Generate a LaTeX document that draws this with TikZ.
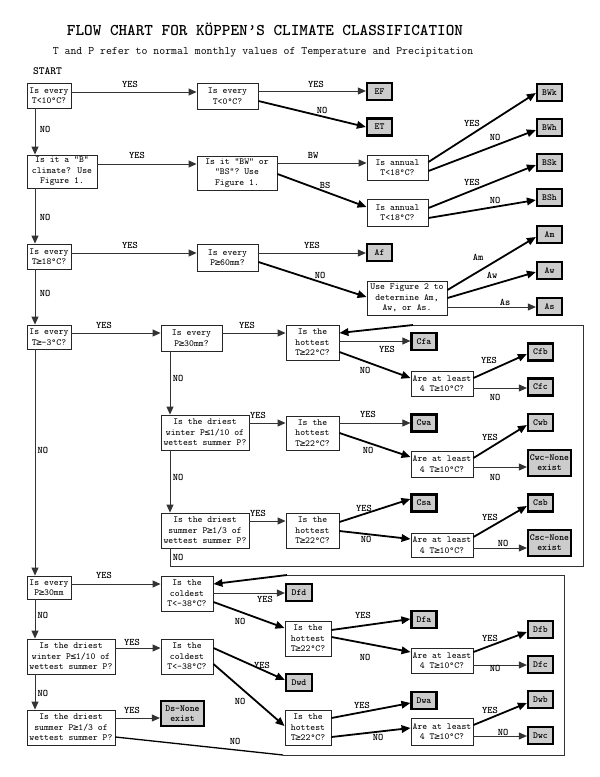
\documentclass[tikz,border=0pt]{standalone}
\usepackage{fontspec}
\newfontfamily\symf{DejaVu Sans Mono}
\usetikzlibrary{arrows.meta}
\newcommand\GEQ{{\symf\kern-0.3pt≥\kern-0.3pt}}
\newcommand\LEQ{{\symf\kern-0.3pt≤\kern-0.3pt}}
\newcommand\boxfnt{\ttfamily\fontsize{9.3}{10.5}\selectfont}
\newcommand\boxbfnt{\ttfamily\fontsize{9.3}{10}\selectfont\bfseries}
\newcommand\lblfnt{\ttfamily\fontsize{10}{11}\selectfont\bfseries}
\tikzset{
 q/.style={draw=black!85, line width=0.9pt, fill=white, inner sep=0pt, align=center, font=\boxfnt},
 term/.style={draw=black, line width=2.2pt, fill=gray!40, inner sep=0pt, align=center, font=\boxbfnt, minimum width=25pt, minimum height=17pt},
 ln/.style={draw=black!80, line width=0.9pt, -{Triangle[length=8pt,width=7pt]}},
 tk/.style={draw=black, line width=1.8pt, -{Triangle[length=9pt,width=7.5pt]}},
 lb/.style={font=\lblfnt, inner sep=0pt},
}
\begin{document}
\begin{tikzpicture}[x=1pt,y=-1pt]
\fill[white] (0,0) rectangle (600,777);
\useasboundingbox (0,0) rectangle (600,777);
% titles
\node[font=\ttfamily\fontsize{16.4}{18}\selectfont\bfseries] (title) at (265,29) {FLOW CHART FOR KÖPPEN’S CLIMATE CLASSIFICATION};
\node[font=\ttfamily\fontsize{11.5}{13}\selectfont] (sub) at (263,52) {T and P refer to normal monthly values of Temperature and Precipitation};
\node[font=\ttfamily\fontsize{11}{12}\selectfont\bfseries] (start) at (47.5,71) {START};
% ---- E ----
\node[q, minimum width=44pt, minimum height=25pt] (a1) at (49,95.5) {Is every\\T<10°C?};
\node[q, minimum width=61pt, minimum height=26pt] (a2) at (227.5,96) {Is every\\T<0°C?};
\node[term] (ef) at (379.5,91.5) {EF};
\node[term] (et) at (379.5,127) {ET};
% ---- B ----
\node[q, minimum width=70pt, minimum height=33pt] (b1) at (62,171.5) {Is it a “B”\\climate?  Use\\Figure 1.};
\node[q, minimum width=80pt, minimum height=34pt] (b2) at (237,173) {Is it “BW” or\\“BS”?  Use\\Figure 1.};
\node[q, minimum width=61pt, minimum height=25pt] (bw) at (397.5,167.5) {Is annual\\T<18°C?};
\node[q, minimum width=61pt, minimum height=27pt] (bs) at (397.5,212.5) {Is annual\\T<18°C?};
\node[term] (bwk) at (549.5,92.5) {BWk};
\node[term] (bwh) at (549.5,127.5) {BWh};
\node[term] (bsk) at (549.5,162.5) {BSk};
\node[term] (bsh) at (549.5,197.5) {BSh};
% ---- A ----
\node[q, minimum width=44pt, minimum height=25pt] (ca) at (49,256.5) {Is every\\T\GEQ18°C?};
\node[q, minimum width=61pt, minimum height=27pt] (p60) at (227.5,257.5) {Is every\\P\GEQ60mm?};
\node[term] (af) at (379.5,252.5) {Af};
\node[q, minimum width=80pt, minimum height=34pt] (fig2) at (407,298) {Use Figure 2 to\\determine Am,\\Aw, or As.};
\node[term] (am) at (549.5,234.5) {Am};
\node[term] (aw) at (549.5,270.5) {Aw};
\node[term] (as) at (549.5,306.5) {As};
% ---- C ----
\node[q, minimum width=44pt, minimum height=24pt] (cc) at (49,337) {Is every\\T\GEQ-3°C?};
\node[q, minimum width=61pt, minimum height=26pt] (p30) at (191.5,338) {Is every\\P\GEQ30mm?};
\node[q, minimum width=53pt, minimum height=35pt] (h1) at (312.5,342.5) {Is the\\hottest\\T\GEQ22°C?};
\node[term] (cfa) at (424,341.5) {Cfa};
\node[q, minimum width=62pt, minimum height=25pt] (ar1) at (442,383.5) {Are at least\\4 T\GEQ10°C?};
\node[term] (cfb) at (540.5,352) {Cfb};
\node[term] (cfc) at (540.5,387) {Cfc};
\node[q, minimum width=88pt, minimum height=35pt] (dw) at (205,432.5) {Is the driest\\winter P\LEQ1/10 of\\wettest summer P?};
\node[q, minimum width=53pt, minimum height=34pt] (h2) at (312.5,433) {Is the\\hottest\\T\GEQ22°C?};
\node[term] (cwa) at (424,423) {Cwa};
\node[q, minimum width=62pt, minimum height=26pt] (ar2) at (442,464) {Are at least\\4 T\GEQ10°C?};
\node[term] (cwb) at (540.5,422.5) {Cwb};
\node[term, minimum width=43pt, minimum height=26pt] (cwc) at (549.5,463) {Cwc-None\\exist};
\node[q, minimum width=88pt, minimum height=35pt] (ds) at (205,530.5) {Is the driest\\summer P\GEQ1/3 of\\wettest summer P?};
\node[q, minimum width=53pt, minimum height=35pt] (h3) at (312.5,530.5) {Is the\\hottest\\T\GEQ22°C?};
\node[term] (csa) at (424,503) {Csa};
\node[q, minimum width=62pt, minimum height=24pt] (ar3) at (442,545) {Are at least\\4 T\GEQ10°C?};
\node[term] (csb) at (540.5,503) {Csb};
\node[term, minimum width=43pt, minimum height=26pt] (csc) at (549.5,543) {Csc-None\\exist};
% ---- D ----
\node[q, minimum width=44pt, minimum height=23pt] (dd) at (49,587.5) {Is every\\P\GEQ30mm};
\node[q, minimum width=52pt, minimum height=35pt] (co1) at (187,593.5) {Is the\\coldest\\T<-38°C?};
\node[term, minimum width=26pt] (dfd) at (299,592.5) {Dfd};
\node[q, minimum width=46pt, minimum height=35pt] (h4) at (308,638.5) {Is the\\hottest\\T\GEQ22°C?};
\node[term] (dfa) at (424,619.5) {Dfa};
\node[q, minimum width=62pt, minimum height=25pt] (ar4) at (442,660.5) {Are at least\\4 T\GEQ10°C?};
\node[term] (dfb) at (540.5,629.5) {Dfb};
\node[term] (dfc) at (540.5,664.5) {Dfc};
\node[q, minimum width=88pt, minimum height=35pt] (dw2) at (71,656.5) {Is the driest\\winter P\LEQ1/10 of\\wettest summer P?};
\node[q, minimum width=52pt, minimum height=35pt] (co2) at (187,656.5) {Is the\\coldest\\T<-38°C?};
\node[term, minimum width=26pt] (dwd) at (299,682.5) {Dwd};
\node[q, minimum width=46pt, minimum height=35pt] (h5) at (308,727.5) {Is the\\hottest\\T\GEQ22°C?};
\node[term] (dwa) at (424,700.5) {Dwa};
\node[q, minimum width=62pt, minimum height=27pt] (ar5) at (442,731.5) {Are at least\\4 T\GEQ10°C?};
\node[term] (dwb) at (540.5,699.5) {Dwb};
\node[term] (dwc) at (540.5,735.5) {Dwc};
\node[q, minimum width=88pt, minimum height=35pt] (ds2) at (71,727.5) {Is the driest\\summer P\GEQ1/3 of\\wettest summer P?};
\node[term, minimum width=43pt, minimum height=25pt] (dsn) at (182.5,713.5) {Ds-None\\exist};
% ---- connectors: E ----
\draw[ln] (a1.east |- 0,92) -- (a2.west |- 0,92);
\node[lb] (l1) at (130,84) {YES};
\draw[ln] (a2.east |- 0,91) -- (ef.west |- 0,91);
\node[lb] (l2) at (316,84) {YES};
\draw[tk] (a2.east |- 0,101) -- (et.west |- 0,127);
\node[lb] (l3) at (322,110) {NO};
\draw[ln] (a1.south -| 35,0) -- (b1.north -| 35,0);
\node[lb] (l4) at (45,129) {NO};
% ---- B ----
\draw[ln] (b1.east |- 0,164) -- (b2.west |- 0,164);
\node[lb] (l5) at (137,155) {YES};
\draw[ln] (b2.east |- 0,163) -- (bw.west |- 0,163);
\node[lb] (l6) at (313,155) {BW};
\draw[tk] (b2.east |- 0,174) -- (bs.west |- 0,207);
\node[lb] (l7) at (325,185) {BS};
\draw[tk] (bw.east |- 0,162) -- (bwk.west |- 0,93);
\node[lb] (l8) at (472,123) {YES};
\draw[tk] (bw.east |- 0,171) -- (bwh.west |- 0,130);
\node[lb] (l9) at (495,137) {NO};
\draw[tk] (bs.east |- 0,208) -- (bsk.west |- 0,165);
\node[lb] (l10) at (472,182) {YES};
\draw[tk] (bs.east |- 0,218) -- (bsh.west |- 0,200);
\node[lb] (l11) at (495,200) {NO};
\draw[ln] (b1.south -| 35,0) -- (ca.north -| 35,0);
\node[lb] (l12) at (45,217) {NO};
% ---- A ----
\draw[ln] (ca.east |- 0,253) -- (p60.west |- 0,253);
\node[lb] (l13) at (130,245) {YES};
\draw[ln] (p60.east |- 0,253) -- (af.west |- 0,253);
\node[lb] (l14) at (312,245) {YES};
\draw[tk] (p60.east |- 0,262) -- (fig2.west |- 0,297);
\node[lb] (l15) at (320,275) {NO};
\draw[tk] (fig2.east |- 0,290) -- (am.west |- 0,237);
\node[lb] (l16) at (478,257) {Am};
\draw[tk] (fig2.east |- 0,298) -- (aw.west |- 0,272);
\node[lb] (l17) at (492,275) {Aw};
\draw[ln] (fig2.east |- 0,307) -- (as.west |- 0,307);
\node[lb] (l18) at (505,302) {As};
\draw[ln] (ca.south -| 35,0) -- (cc.north -| 35,0);
\node[lb] (l19) at (45,293) {NO};
% ---- C ----
\draw[ln] (cc.east |- 0,333) -- (p30.west |- 0,333);
\node[lb] (l20) at (104,325) {YES};
\draw[ln] (p30.east |- 0,333) -- (h1.west |- 0,333);
\node[lb] (l21) at (247,325) {YES};
\draw[ln] (h1.east |- 0,341) -- (cfa.west |- 0,341);
\node[lb] (l22) at (387,349) {YES};
\draw[tk] (h1.east |- 0,352) -- (ar1.west |- 0,378);
\node[lb] (l23) at (365,370) {NO};
\draw[tk] (ar1.east |- 0,378) -- (cfb.west |- 0,354);
\node[lb] (l24) at (489,360) {YES};
\draw[ln] (ar1.east |- 0,388) -- (cfc.west |- 0,388);
\node[lb] (l25) at (495,397) {NO};
\draw[ln] (p30.south -| 170,0) -- (dw.north -| 170,0);
\node[lb] (l26) at (178,378) {NO};
\draw[ln] (dw.east |- 0,423) -- (h2.west |- 0,423);
\node[lb] (l27) at (258,415) {YES};
\draw[ln] (h2.east |- 0,423) -- (cwa.west |- 0,423);
\node[lb] (l28) at (368,414) {YES};
\draw[tk] (h2.east |- 0,433) -- (ar2.west |- 0,457);
\node[lb] (l29) at (368,450) {NO};
\draw[tk] (ar2.east |- 0,458) -- (cwb.west |- 0,425);
\node[lb] (l30) at (490,437) {YES};
\draw[ln] (ar2.east |- 0,467) -- (cwc.west |- 0,467);
\node[lb] (l31) at (495,477) {NO};
\draw[ln] (dw.south -| 170,0) -- (ds.north -| 170,0);
\node[lb] (l32) at (178,477) {NO};
\draw[ln] (ds.east |- 0,521) -- (h3.west |- 0,521);
\node[lb] (l33) at (258,513) {YES};
\draw[tk] (h3.east |- 0,522) -- (csa.west |- 0,499);
\node[lb] (l34) at (364,508) {YES};
\draw[tk] (h3.east |- 0,531) -- (ar3.west |- 0,539);
\node[lb] (l35) at (366,539) {NO};
\draw[tk] (ar3.east |- 0,537) -- (csb.west |- 0,506);
\node[lb] (l36) at (490,517) {YES};
\draw[ln] (ar3.east |- 0,548) -- (csc.west |- 0,548);
\node[lb] (l37) at (503,543) {NO};
\coordinate (cl1) at (170,566);
\coordinate (cl2) at (583,566);
\coordinate (cl3) at (583,325);
\coordinate (cl4) at (413,325);
\draw[ln,-] (ds.south -| 170,0) -- (cl1) -- (cl2) -- (cl3) -- (cl4);
\draw[tk] (cl4) -- (h1.east |- 0,333);
\node[lb] (l38) at (178,557) {NO};
% ---- D ----
\draw[ln] (cc.south -| 35,0) -- (dd.north -| 35,0);
\node[lb] (l39) at (43,450) {NO};
\draw[ln] (dd.east |- 0,584) -- (co1.west |- 0,584);
\node[lb] (l40) at (104,575) {YES};
\draw[ln] (co1.east |- 0,593) -- (dfd.west |- 0,593);
\node[lb] (l41) at (265,599) {YES};
\draw[tk] (co1.east |- 0,602) -- (h4.west |- 0,628);
\node[lb] (l42) at (240,621) {NO};
\draw[tk] (h4.east |- 0,630) -- (dfa.west |- 0,619);
\node[lb] (l43) at (363,615) {YES};
\draw[tk] (h4.east |- 0,637) -- (ar4.west |- 0,652);
\node[lb] (l44) at (365,657) {NO};
\draw[tk] (ar4.east |- 0,652) -- (dfb.west |- 0,632);
\node[lb] (l45) at (490,638) {YES};
\draw[ln] (ar4.east |- 0,665) -- (dfc.west |- 0,665);
\node[lb] (l46) at (495,668) {NO};
\draw[ln] (dd.south -| 35,0) -- (dw2.north -| 35,0);
\node[lb] (l47) at (43,615) {NO};
\draw[ln] (dw2.east |- 0,648) -- (co2.west |- 0,648);
\node[lb] (l48) at (132,642) {YES};
\draw[tk] (co2.east |- 0,648) -- (dwd.west |- 0,680);
\node[lb] (l49) at (262,665) {YES};
\draw[tk] (co2.east |- 0,664) -- (h5.west |- 0,726);
\node[lb] (l50) at (240,701) {NO};
\draw[tk] (h5.east |- 0,718) -- (dwa.west |- 0,703);
\node[lb] (l51) at (362,705) {YES};
\draw[tk] (h5.east |- 0,737) -- (ar5.west |- 0,728);
\node[lb] (l52) at (378,737) {NO};
\draw[tk] (ar5.east |- 0,725) -- (dwb.west |- 0,703);
\node[lb] (l53) at (490,710) {YES};
\draw[ln] (ar5.east |- 0,736) -- (dwc.west |- 0,736);
\node[lb] (l54) at (503,732) {NO};
\draw[ln] (dw2.south -| 35,0) -- (ds2.north -| 35,0);
\node[lb] (l55) at (43,693) {NO};
\draw[ln] (ds2.east |- 0,718) -- (dsn.west |- 0,718);
\node[lb] (l56) at (132,710) {YES};
\coordinate (dl1) at (283,755);
\coordinate (dl2) at (564,755);
\coordinate (dl3) at (564,575);
\coordinate (dl4) at (287,575);
\draw[draw=black, line width=1.3pt] (ds2.east |- 0,737) -- (dl1);
\draw[ln,-] (dl1) -- (dl2) -- (dl3) -- (dl4);
\draw[tk] (dl4) -- (co1.east |- 0,584);
\node[lb] (l57) at (235,741) {NO};
\end{tikzpicture}
\end{document}
